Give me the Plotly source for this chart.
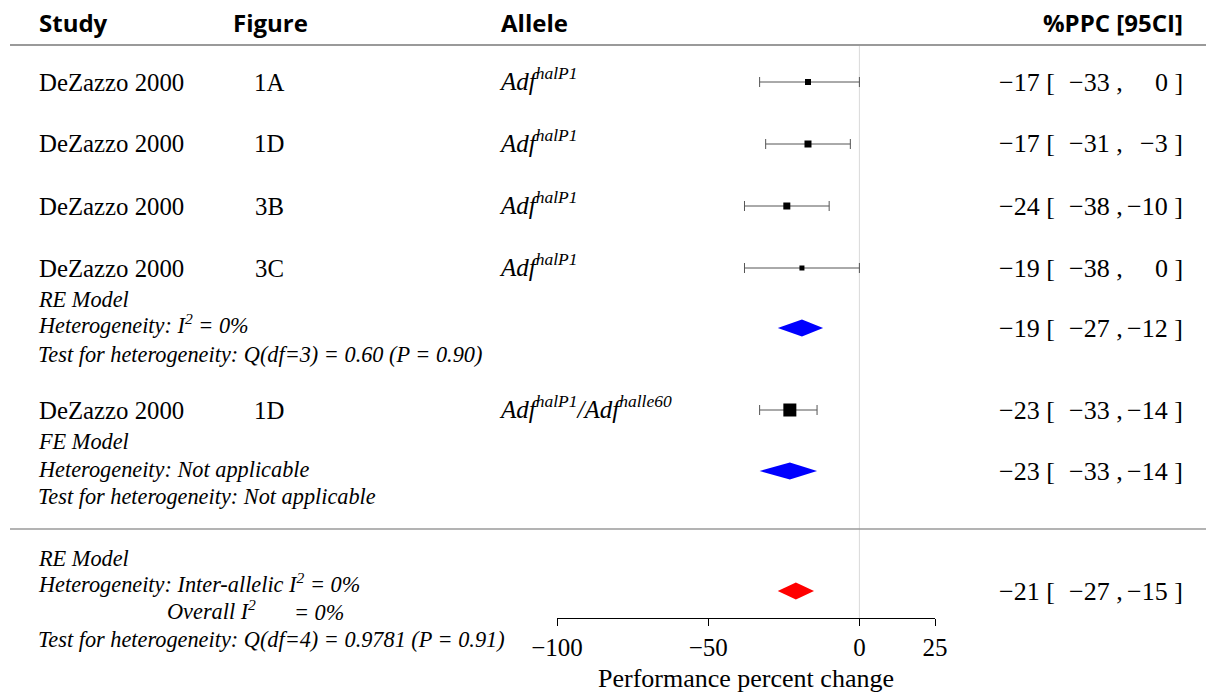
import plotly.graph_objects as go

# ---------------- data ----------------
studies = ["DeZazzo 2000", "DeZazzo 2000", "DeZazzo 2000", "DeZazzo 2000", "DeZazzo 2000"]
figures = ["1A", "1D", "3B", "3C", "1D"]
alleles = ["Adf<sup>halP1</sup>", "Adf<sup>halP1</sup>", "Adf<sup>halP1</sup>",
           "Adf<sup>halP1</sup>", "Adf<sup>halP1</sup>/Adf<sup>halle60</sup>"]
est = [-17, -17, -24, -19, -23]
ci_lo = [-33, -31, -38, -38, -33]
ci_hi = [0, -3, -10, 0, -14]

# summaries: RE (halP1), FE (halP1/halle60), overall RE
sum_names = ["RE halP1", "FE halP1/halle60", "Overall RE"]
sum_est = [-19, -23, -21]
sum_lo = [-27, -33, -27]
sum_hi = [-12, -14, -15]

tick_vals = [-100, -50, 0, 25]
tick_text = ["\u2212100", "\u221250", "0", "25"]

headers = ["Study", "Figure", "Allele", "%PPC [95CI]"]

re_lines = ["RE Model", "Heterogeneity: I<sup>2</sup> = 0%",
            "Test for heterogeneity: Q(df=3) = 0.60 (P = 0.90)"]
fe_lines = ["FE Model", "Heterogeneity: Not applicable",
            "Test for heterogeneity: Not applicable"]
ov_lines = ["RE Model", "Heterogeneity: Inter-allelic I<sup>2</sup> = 0%",
            "Test for heterogeneity: Q(df=4) = 0.9781 (P = 0.91)"]
ov_overall = ["Overall I<sup>2</sup>", "= 0%"]

# ---------------- layout / style ----------------
W, H = 1206, 697
study_rows = [82, 144, 206, 268, 410]   # vertical pixel position of each study row
sum_rows = [328, 471, 591]
sum_colors = ["#0000FF", "#0000FF", "#FF0000"]
marker_sizes = [6, 7, 7, 5, 13]
SERIF = "Liberation Serif"
SANS = "Open Sans"


def fmt(v):
    return str(v).replace("-", "\u2212")


def txt(px, py, text, size, family=SERIF, anchor="left"):
    return dict(x=px / W, y=1 - py / H, xref="paper", yref="paper", text=text,
                showarrow=False, xanchor=anchor, yanchor="middle",
                font=dict(family=family, size=size, color="black"))


fig = go.Figure()

# study CIs (drawn first)
fig.add_trace(go.Scatter(
    x=est, y=study_rows, mode="markers",
    marker=dict(size=1, opacity=0),
    error_x=dict(type="data", symmetric=False,
                 array=[h - e for h, e in zip(ci_hi, est)],
                 arrayminus=[e - l for e, l in zip(est, ci_lo)],
                 color="#555555", thickness=1, width=5),
    hoverinfo="skip"))
# study point estimates
fig.add_trace(go.Scatter(
    x=est, y=study_rows, mode="markers",
    marker=dict(symbol="square", size=marker_sizes, color="black", opacity=1,
                line=dict(width=0)),
    hoverinfo="skip"))

# summary diamonds
half_h = 8.5
for e, l, h, yy, c in zip(sum_est, sum_lo, sum_hi, sum_rows, sum_colors):
    fig.add_trace(go.Scatter(
        x=[l, e, h, e, l], y=[yy, yy - half_h, yy, yy + half_h, yy],
        mode="lines", fill="toself", fillcolor=c, line=dict(width=0, color=c),
        hoverinfo="skip"))

ann = []
# headers
ann.append(txt(37, 22, "<b>Study</b>", 24, SANS))
ann.append(txt(231, 22, "<b>Figure</b>", 24, SANS))
ann.append(txt(499, 22, "<b>Allele</b>", 24, SANS))
ann.append(txt(1185, 22, "<b>%PPC [95CI]</b>", 24, SANS, "right"))

# study rows
for s, f, a, yy in zip(studies, figures, alleles, study_rows):
    ann.append(txt(37, yy, s, 24.8))
    ann.append(txt(269, yy, f, 24.8, SERIF, "center"))
    ann.append(txt(497, yy - 3, "<i>" + a + "</i>", 25))

# numeric column
all_est = est[:4] + [sum_est[0]] + [est[4]] + sum_est[1:]
all_lo = ci_lo[:4] + [sum_lo[0]] + [ci_lo[4]] + sum_lo[1:]
all_hi = ci_hi[:4] + [sum_hi[0]] + [ci_hi[4]] + sum_hi[1:]
all_rows = study_rows[:4] + [sum_rows[0]] + [study_rows[4]] + sum_rows[1:]
for e, l, h, yy in zip(all_est, all_lo, all_hi, all_rows):
    ann.append(txt(1057, yy, fmt(e) + " [", 26, SERIF, "right"))
    ann.append(txt(1125, yy, fmt(l) + " ,", 26, SERIF, "right"))
    ann.append(txt(1185, yy, fmt(h) + " ]", 26, SERIF, "right"))

# model text blocks
for lines, ys in [(re_lines, [299, 326, 354]), (fe_lines, [441, 469, 496]),
                  (ov_lines, [558, 585, 639])]:
    for t, yy in zip(lines, ys):
        off = -2 if "<sup>" in t else 0
        ann.append(txt(36, yy + off, "<i>" + t + "</i>", 22.3))
ann.append(txt(165, 612 - 2, "<i>" + ov_overall[0] + "</i>", 22.3))
ann.append(txt(292, 612, "<i>" + ov_overall[1] + "</i>", 22.3))

shapes = [
    dict(type="line", xref="paper", yref="paper", x0=10 / W, x1=1, y0=1 - 45 / H, y1=1 - 45 / H,
         line=dict(color="#9a9a9a", width=2)),
    dict(type="line", xref="paper", yref="paper", x0=10 / W, x1=1, y0=1 - 529 / H, y1=1 - 529 / H,
         line=dict(color="#9a9a9a", width=1.5)),
    dict(type="line", xref="x", yref="y", x0=0, x1=0, y0=45, y1=618,
         line=dict(color="#d9d9d9", width=1), layer="below"),
]

fig.update_layout(
    width=W, height=H, margin=dict(l=0, r=0, t=0, b=0, autoexpand=False),
    paper_bgcolor="white", plot_bgcolor="white", showlegend=False,
    annotations=ann, shapes=shapes,
    xaxis=dict(domain=[557 / W, 935 / W], range=[-100, 25], showgrid=False, zeroline=False,
               automargin=False,
               showline=True, linecolor="black", linewidth=1,
               ticks="outside", ticklen=7, tickcolor="black", tickwidth=1,
               tickvals=tick_vals, ticktext=tick_text,
               tickfont=dict(family=SERIF, size=25, color="black"),
               title=dict(text="Performance percent change", standoff=8,
                          font=dict(family=SERIF, size=26, color="black"))),
    yaxis=dict(domain=[1 - 618 / H, 1], range=[618, 0], visible=False, showgrid=False,
               zeroline=False, automargin=False),
)

fig.write_html("out.html")
